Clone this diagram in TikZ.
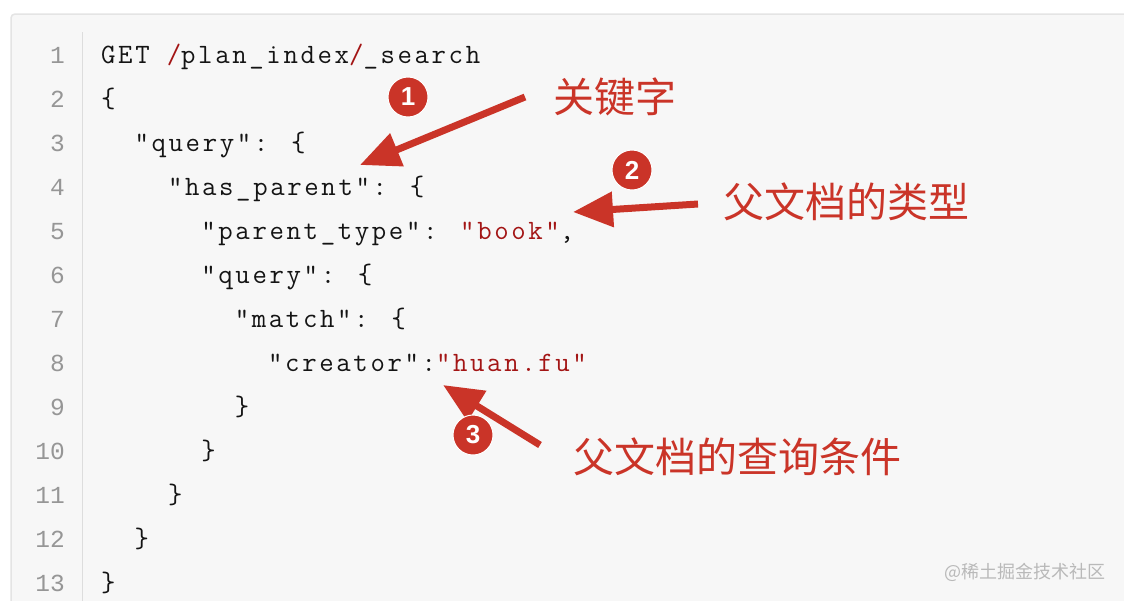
\documentclass[tikz,border=0pt]{standalone}
\usepackage{fontspec}
\usepackage{xcolor}
\usetikzlibrary{arrows.meta}
\newfontfamily\codefont{Latin Modern Mono}[LetterSpace=9.4]
\newfontfamily\numfont{Liberation Mono}
\newfontfamily\badgefont{Liberation Sans}
\newfontfamily\cjkfont{Noto Sans CJK SC}
\definecolor{panelbg}{RGB}{247,247,247}
\definecolor{panelline}{RGB}{228,228,228}
\definecolor{gutter}{RGB}{221,221,221}
\definecolor{numgray}{RGB}{150,150,150}
\definecolor{codeblack}{RGB}{20,20,20}
\definecolor{codered}{RGB}{163,21,21}
\definecolor{annot}{RGB}{202,52,40}
\definecolor{wgray}{RGB}{185,185,185}
\begin{document}
\begin{tikzpicture}[x=1pt,y=-1pt,
    code/.style={anchor=base west,inner sep=0,text=codeblack,font=\codefont\fontsize{28}{28}\selectfont},
    lineno/.style={anchor=base east,inner sep=0,text=numgray,font=\numfont\fontsize{24.5}{24.5}\selectfont},
    badge/.style={circle,fill=annot,draw=white,line width=1pt,minimum size=40pt,inner sep=0,text=white,font=\badgefont\bfseries\fontsize{26}{26}\selectfont},
    note/.style={anchor=west,inner sep=0,text=annot,font=\cjkfont\fontsize{41}{41}\selectfont},
    pointer/.style={annot,line width=7pt,-{Triangle[length=40pt,width=34pt]}},
    wmark/.style={anchor=east,inner sep=0,text=wgray,font=\cjkfont\fontsize{18}{18}\selectfont}]
        \useasboundingbox (0,0) rectangle (1124,600);
        \clip (0,0) rectangle (1124,600);
        \fill[white] (0,0) rectangle (1124,600);
        \draw[panelline,fill=panelbg,line width=1.5pt,rounded corners=4pt] (11,14) rectangle (1140,620);
        \draw[gutter,line width=1.5pt] (82.5,32) -- (82.5,610);
        \node[lineno] (n1) at (65,63) {1};
        \node[lineno] (n2) at (65,107) {2};
        \node[lineno] (n3) at (65,151) {3};
        \node[lineno] (n4) at (65,195) {4};
        \node[lineno] (n5) at (65,239) {5};
        \node[lineno] (n6) at (65,283) {6};
        \node[lineno] (n7) at (65,327) {7};
        \node[lineno] (n8) at (65,371) {8};
        \node[lineno] (n9) at (65,415) {9};
        \node[lineno] (n10) at (65,459) {10};
        \node[lineno] (n11) at (65,503) {11};
        \node[lineno] (n12) at (65,547) {12};
        \node[lineno] (n13) at (65,591) {13};
        \node[code] (l1) at (101,63) {GET \textcolor{codered}{/}plan\_index\textcolor{codered}{/}\_search};
        \node[code] (l2) at (101,107) {\{};
        \node[code] (l3) at (134.4,151) {"query": \{};
        \node[code] (l4) at (167.8,195) {"has\_parent": \{};
        \node[code] (l5) at (201.2,239) {"parent\_type": \textcolor{codered}{"book"},};
        \node[code] (l6) at (201.2,283) {"query": \{};
        \node[code] (l7) at (234.6,327) {"match": \{};
        \node[code] (l8) at (268,371) {"creator":\textcolor{codered}{"huan.fu"}};
        \node[code] (l9) at (234.6,415) {\}};
        \node[code] (l10) at (201.2,459) {\}};
        \node[code] (l11) at (167.8,503) {\}};
        \node[code] (l12) at (134.4,547) {\}};
        \node[code] (l13) at (101,591) {\}};
        \coordinate (tail1) at (525,97);
        \coordinate (tip1) at (360,165);
        \coordinate (tail2) at (698,204);
        \coordinate (tip2) at (573,212);
        \coordinate (tail3) at (540,445);
        \coordinate (tip3) at (443,385);
        \draw[pointer] (tail1) -- (tip1);
        \draw[pointer] (tail2) -- (tip2);
        \draw[pointer] (tail3) -- (tip3);
        \node[badge] (b1) at (408,97) {1};
        \node[badge] (b2) at (632,170) {2};
        \node[badge] (b3) at (473,435) {3};
        \node[note] (k1) at (553,97) {关键字};
        \node[note] (k2) at (723,202) {父文档的类型};
        \node[note] (k3) at (573,457) {父文档的查询条件};
        \node[wmark] (w) at (1106,572) {@稀土掘金技术社区};
    \end{tikzpicture}
\end{document}
